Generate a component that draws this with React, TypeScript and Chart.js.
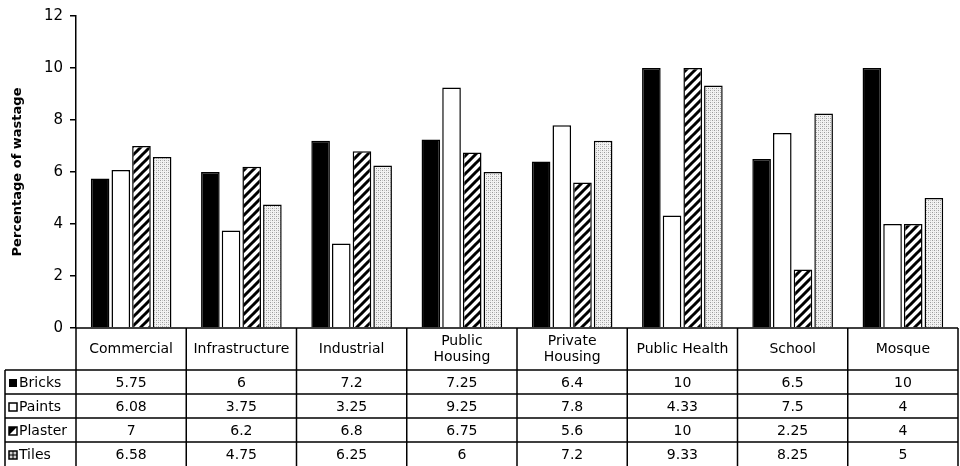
import React, { useEffect, useRef } from "react";
import { Chart, registerables } from "chart.js";

Chart.register(...registerables);

const categories: string[][] = [
  ["Commercial"],
  ["Infrastructure"],
  ["Industrial"],
  ["Public", "Housing"],
  ["Private", "Housing"],
  ["Public Health"],
  ["School"],
  ["Mosque"],
];
const seriesNames = ["Bricks", "Paints", "Plaster", "Tiles"];
const bricks = [5.75, 6, 7.2, 7.25, 6.4, 10, 6.5, 10];
const paints = [6.08, 3.75, 3.25, 9.25, 7.8, 4.33, 7.5, 4];
const plaster = [7, 6.2, 6.8, 6.75, 5.6, 10, 2.25, 4];
const tiles = [6.58, 4.75, 6.25, 6, 7.2, 9.33, 8.25, 5];
const bricksText = ["5.75", "6", "7.2", "7.25", "6.4", "10", "6.5", "10"];
const paintsText = ["6.08", "3.75", "3.25", "9.25", "7.8", "4.33", "7.5", "4"];
const plasterText = ["7", "6.2", "6.8", "6.75", "5.6", "10", "2.25", "4"];
const tilesText = ["6.58", "4.75", "6.25", "6", "7.2", "9.33", "8.25", "5"];
const yTicks = [0, 2, 4, 6, 8, 10, 12];

const FONT = "'DejaVu Sans', sans-serif";

function makeHatch(): CanvasPattern | string {
  const c = document.createElement("canvas");
  c.width = 9;
  c.height = 9;
  const g = c.getContext("2d");
  if (!g) return "#888";
  g.fillStyle = "#fff";
  g.fillRect(0, 0, 9, 9);
  g.strokeStyle = "#000";
  g.lineWidth = 3;
  g.beginPath();
  for (const o of [-9, 0, 9]) {
    g.moveTo(o - 1, 10);
    g.lineTo(o + 10, -1);
  }
  g.stroke();
  return g.createPattern(c, "repeat") || "#888";
}

function makeDots(): CanvasPattern | string {
  const c = document.createElement("canvas");
  c.width = 4;
  c.height = 4;
  const g = c.getContext("2d");
  if (!g) return "#ddd";
  g.fillStyle = "#f2f2f2";
  g.fillRect(0, 0, 4, 4);
  g.fillStyle = "#9a9a9a";
  g.fillRect(0, 0, 1, 1);
  g.fillRect(2, 2, 1, 1);
  g.fillStyle = "#c8c8c8";
  g.fillRect(2, 0, 1, 1);
  g.fillRect(0, 2, 1, 1);
  return g.createPattern(c, "repeat") || "#ddd";
}

export default function App() {
  const ref = useRef<HTMLCanvasElement | null>(null);

  useEffect(() => {
    document.body.style.margin = "0";
    const canvas = ref.current;
    if (!canvas) return;
    const hatch = makeHatch();
    const dots = makeDots();
    const fills: any[] = ["#000", "#fff", hatch, dots];
    const texts = [bricksText, paintsText, plasterText, tilesText];

    const tablePlugin = {
      id: "dataTable",
      afterDraw(chart: any) {
        const ctx = chart.ctx as CanvasRenderingContext2D;
        const a = chart.chartArea;
        const n = categories.length;
        const w = (a.right - a.left) / n;
        const top = a.bottom;
        const headerBottom = top + 42;
        const rowH = 24;
        const leftEdge = 5;
        const bottom = chart.height + 2;
        ctx.save();
        ctx.strokeStyle = "#000";
        ctx.lineWidth = 1.5;
        ctx.beginPath();
        ctx.moveTo(a.left, top);
        ctx.lineTo(a.right, top);
        for (let i = 0; i <= n; i++) {
          const x = a.left + i * w;
          ctx.moveTo(x, top);
          ctx.lineTo(x, bottom);
        }
        ctx.moveTo(leftEdge, headerBottom);
        ctx.lineTo(leftEdge, bottom);
        for (let r = 0; r < 4; r++) {
          const y = headerBottom + r * rowH;
          ctx.moveTo(leftEdge, y);
          ctx.lineTo(a.right, y);
        }
        ctx.stroke();

        ctx.fillStyle = "#000";
        ctx.font = `14px ${FONT}`;
        ctx.textAlign = "center";
        ctx.textBaseline = "middle";
        for (let i = 0; i < n; i++) {
          const cx = a.left + (i + 0.5) * w;
          const lines = categories[i];
          const cy = (top + headerBottom) / 2;
          lines.forEach((t, k) => {
            ctx.fillText(t, cx, cy + (k - (lines.length - 1) / 2) * 16);
          });
          for (let r = 0; r < 4; r++) {
            const y = headerBottom + r * rowH + rowH / 2 + 1;
            ctx.fillText(texts[r][i], cx, y);
          }
        }
        ctx.textAlign = "left";
        for (let r = 0; r < 4; r++) {
          const y = headerBottom + r * rowH + rowH / 2;
          const kx = 9;
          const ks = 8;
          const ky = y - ks / 2 + 1;
          ctx.lineWidth = 1.5;
          if (r === 0) {
            ctx.fillStyle = "#000";
            ctx.fillRect(kx, ky, ks, ks);
          } else if (r === 1) {
            ctx.fillStyle = "#fff";
            ctx.fillRect(kx, ky, ks, ks);
            ctx.strokeRect(kx, ky, ks, ks);
          } else if (r === 2) {
            ctx.fillStyle = "#fff";
            ctx.fillRect(kx, ky, ks, ks);
            ctx.fillStyle = "#000";
            ctx.beginPath();
            ctx.moveTo(kx, ky);
            ctx.lineTo(kx + ks, ky);
            ctx.lineTo(kx, ky + ks);
            ctx.closePath();
            ctx.fill();
            ctx.strokeRect(kx, ky, ks, ks);
          } else {
            ctx.fillStyle = "#d0d0d0";
            ctx.fillRect(kx, ky, ks, ks);
            ctx.strokeRect(kx, ky, ks, ks);
            ctx.lineWidth = 1;
            ctx.beginPath();
            ctx.moveTo(kx + ks / 2, ky);
            ctx.lineTo(kx + ks / 2, ky + ks);
            ctx.moveTo(kx, ky + ks / 2);
            ctx.lineTo(kx + ks, ky + ks / 2);
            ctx.stroke();
          }
          ctx.fillStyle = "#000";
          ctx.fillText(seriesNames[r], 19, y + 1);
        }
        ctx.restore();
      },
    };

    const seriesData = [bricks, paints, plaster, tiles];
    const chart = new Chart(canvas, {
      type: "bar",
      data: {
        labels: categories.map((c) => c.join(" ")),
        datasets: seriesNames.map((name, i) => ({
          label: name,
          data: seriesData[i],
          backgroundColor: fills[i],
          borderColor: "#000",
          borderWidth: 1.5,
          categoryPercentage: 0.75,
          barPercentage: 0.9,
        })),
      },
      options: {
        responsive: false,
        animation: false,
        layout: { padding: { left: 0, right: 2, top: 15, bottom: 138 } },
        plugins: {
          legend: { display: false },
          tooltip: { enabled: false },
        },
        scales: {
          x: { display: false },
          y: {
            min: 0,
            max: 12,
            afterBuildTicks: (s: any) => {
              s.ticks = yTicks.map((v) => ({ value: v }));
            },
            afterFit: (s: any) => {
              s.width = 76;
            },
            ticks: {
              color: "#000",
              font: { family: FONT, size: 15 },
              padding: 7,
            },
            grid: {
              display: true,
              drawOnChartArea: false,
              drawTicks: true,
              tickLength: 6,
              color: "#000",
              lineWidth: 1.5,
            },
            border: { display: true, color: "#000", width: 1.5 },
            title: {
              display: true,
              text: "Percentage of wastage",
              color: "#000",
              font: { family: FONT, size: 13, weight: "bold" },
              padding: { top: 10, bottom: 0 },
            },
          },
        },
      },
      plugins: [tablePlugin],
    });
    return () => chart.destroy();
  }, []);

  return (
    <div style={{ width: 960, height: 466 }}>
      <canvas ref={ref} width={960} height={466} />
    </div>
  );
}
